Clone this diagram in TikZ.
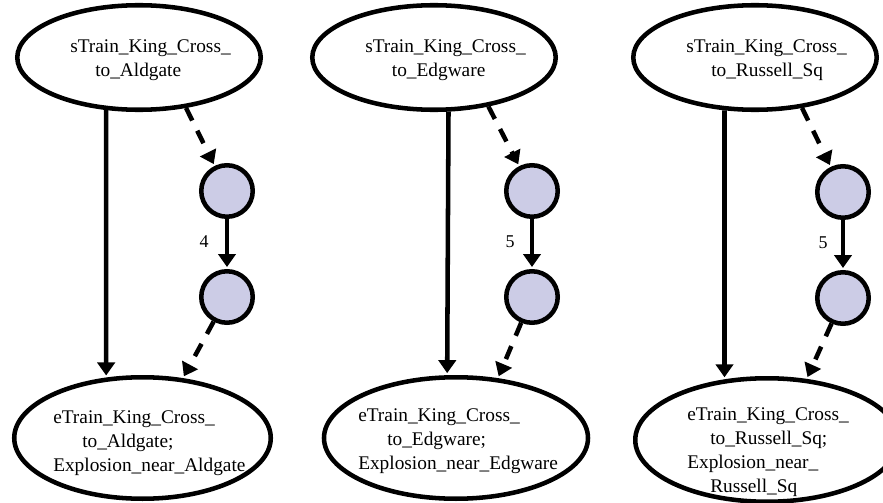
\documentclass[tikz,border=0pt]{standalone}
\usepackage{fontspec}
\setmainfont{Liberation Serif}
\usetikzlibrary{arrows.meta,shapes.geometric}
\definecolor{hopfill}{RGB}{204,204,230}
\begin{document}
\begin{tikzpicture}[x=0.75pt,y=-0.75pt,
  state/.style={ellipse, draw, line width=3.4pt, inner sep=0pt},
  hop/.style={circle, draw, fill=hopfill, line width=3.4pt, minimum size=38.6pt, inner sep=0pt},
  txt/.style={font=\fontsize{14.5pt}{17.8pt}\selectfont, inner sep=0pt, align=left, anchor=north west},
  num/.style={font=\fontsize{13.5pt}{16pt}\selectfont, inner sep=0pt},
  link/.style={line width=3.4pt, shorten >=1.5pt, -{Triangle[length=9.75pt,width=13pt]}},
  soft/.style={link, dash pattern=on 10.5pt off 8.5pt}]
\useasboundingbox (0,0) rectangle (883,503);

% ---- Aldgate ----
\node[state, minimum width=182.6pt, minimum height=78.4pt] (s1) at (139,57.5) {};
\node[txt] (s1t) at (70,39.8) {sTrain\_King\_Cross\_\\\hspace*{18.75pt}to\_Aldgate};
\node[state, minimum width=192.4pt, minimum height=91.1pt] (e1) at (142.5,438) {};
\node[txt] (e1t) at (53,410.8) {eTrain\_King\_Cross\_\\\hspace*{21.75pt}to\_Aldgate;\\Explosion\_near\_Aldgate};
\node[hop] (a1) at (227,191) {};
\node[hop] (b1) at (227,297) {};
\node[num] (w1) at (204,242) {4};
\draw[link] (s1.238) -- (e1.121);
\draw[soft] (s1.313) -- (a1);
\draw[link] (a1) -- (b1);
\draw[soft] (b1) -- (e1.56);

% ---- Edgware ----
\node[state, minimum width=182.6pt, minimum height=78.4pt] (s2) at (434,57.5) {};
\node[txt] (s2t) at (365,39.8) {sTrain\_King\_Cross\_\\\hspace*{20pt}to\_Edgware};
\node[state, minimum width=198pt, minimum height=91.1pt] (e2) at (456,438) {};
\node[txt] (e2t) at (358,408.8) {eTrain\_King\_Cross\_\\\hspace*{21.75pt}to\_Edgware;\\Explosion\_near\_Edgware};
\node[hop] (a2) at (532,191) {};
\node[hop] (b2) at (532,297) {};
\node[num] (w2) at (510,242) {5};
\draw[link] (s2.285) -- (e2.98);
\draw[soft] (s2.318) -- (a2);
\draw[link] (a2) -- (b2);
\draw[soft] (b2) -- (e2.55);

% ---- Russell Square ----
\node[state, minimum width=182.6pt, minimum height=78.4pt] (s3) at (755,57.5) {};
\node[txt] (s3t) at (686,39.8) {sTrain\_King\_Cross\_\\\hspace*{18.75pt}to\_Russell\_Sq};
\node[state, minimum width=197.6pt, minimum height=92.6pt] (e3) at (767,440) {};
\node[txt] (e3t) at (687,407.8) {eTrain\_King\_Cross\_\\\hspace*{17.25pt}to\_Russell\_Sq;\\Explosion\_near\_\\\hspace*{17.25pt}Russell\_Sq};
\node[hop] (a3) at (843,192) {};
\node[hop] (b3) at (843,298) {};
\node[num] (w3) at (823,243) {5};
\draw[link] (s3.240) -- (e3.125);
\draw[soft] (s3.313) -- (a3);
\draw[link] (a3) -- (b3);
\draw[soft] (b3) -- (e3.57);
\end{tikzpicture}
\end{document}
